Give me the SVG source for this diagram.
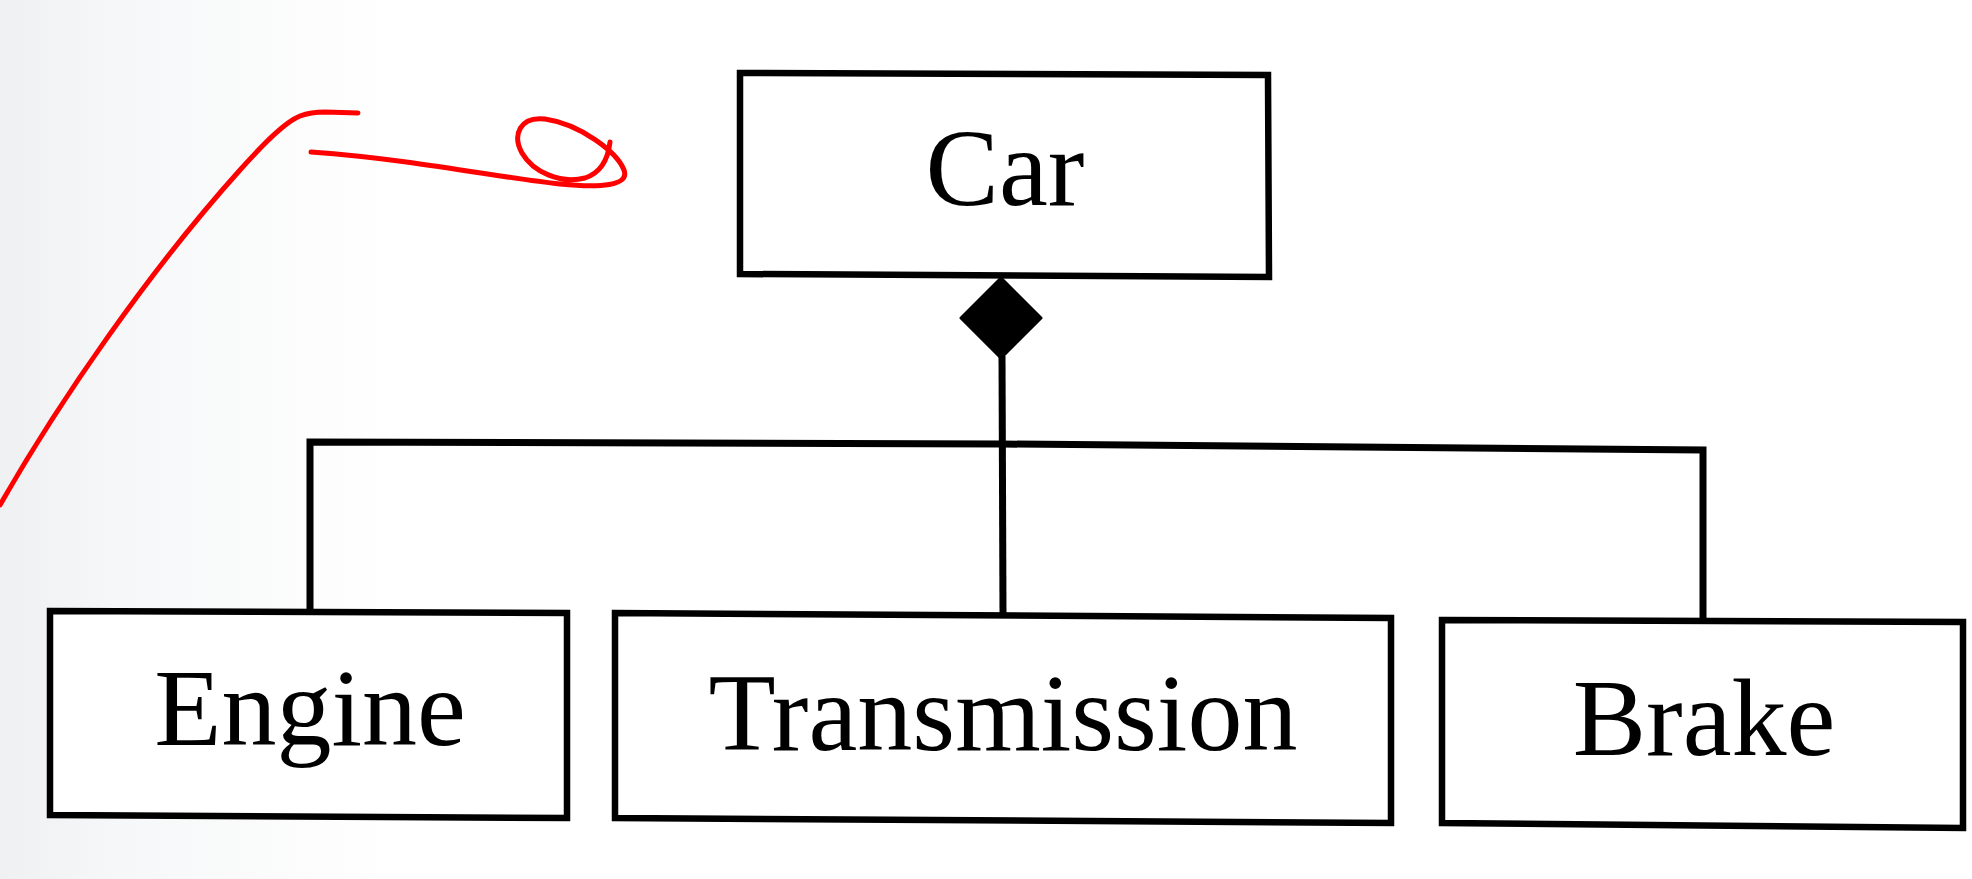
<svg xmlns="http://www.w3.org/2000/svg" width="1972" height="879" viewBox="0 0 1972 879">
  <defs>
    <linearGradient id="paper" x1="0" y1="0" x2="1" y2="0">
      <stop offset="0" stop-color="#eef0f2"/>
      <stop offset="0.06" stop-color="#f6f7f8"/>
      <stop offset="0.2" stop-color="#ffffff"/>
      <stop offset="1" stop-color="#ffffff"/>
    </linearGradient>
    <style>
      .box { fill: #ffffff; stroke: #000000; stroke-width: 6.5; }
      .label { font-family: "Liberation Serif", "Times New Roman", serif; font-size: 110px; fill: #000000; text-anchor: middle; }
      .wire { fill: none; stroke: #000000; stroke-width: 7; stroke-linejoin: miter; }
      .ink { fill: none; stroke: #ff0000; stroke-width: 5; stroke-linecap: round; stroke-linejoin: round; }
    </style>
  </defs>

  <rect x="0" y="0" width="1972" height="879" fill="url(#paper)"/>

  <!-- composition connectors -->
  <g id="connectors">
    <line class="wire" x1="1002" y1="356" x2="1003" y2="614"/>
    <polyline class="wire" points="310,612 310,442 1002,444 1703,450 1703,621"/>
    <polygon id="composition-diamond" points="1001,278 1041,318 1001,358 961,318" fill="#000000" stroke="#000000" stroke-width="3" stroke-linejoin="round"/>
  </g>

  <g id="node-car">
    <polygon class="box" points="740,73 1268,75 1269,277 740,274"/>
    <text class="label" x="1005" y="205" font-size="112">Car</text>
  </g>

  <g id="node-engine">
    <polygon class="box" points="50,611 567,613 567,818 50,815"/>
    <text class="label" x="310" y="745">Engine</text>
  </g>

  <g id="node-transmission">
    <polygon class="box" points="615,613 1391,618 1391,823 615,818"/>
    <text class="label" x="1003" y="750">Transmission</text>
  </g>

  <g id="node-brake">
    <polygon class="box" points="1442,620 1963,622 1963,828 1442,823"/>
    <text class="label" x="1704" y="755">Brake</text>
  </g>

  <!-- red pen strokes -->
  <g id="pen-marks">
    <path class="ink" d="M0,505 C60,400 150,270 240,170 C265,142 285,122 300,116 C308,113 315,112 325,112 L358,113"/>
    <path class="ink" d="M311,152 C420,160 500,178 560,184 C600,188 630,186 624,170 C617,152 580,124 545,119 C520,116 512,135 522,153 C533,172 560,184 585,178 C600,173 608,160 610,142"/>
  </g>
</svg>
